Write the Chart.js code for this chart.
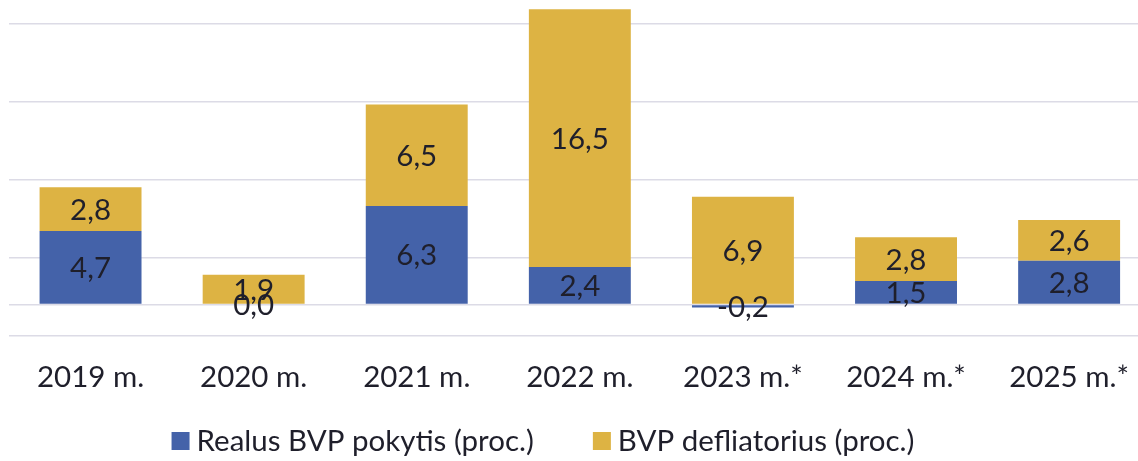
<!DOCTYPE html>
<html><head><meta charset="utf-8">
<script src="https://cdn.jsdelivr.net/npm/chart.js@4.4.1/dist/chart.umd.min.js"></script>
<style>
html,body{margin:0;padding:0;overflow:hidden;background:#fff;width:1138px;height:461px}
#wrap{position:relative;width:1153px;height:461px}
</style></head>
<body><div id="wrap"><canvas id="c"></canvas></div>
<script>
const categories = ['2019 m.','2020 m.','2021 m.','2022 m.','2023 m.*','2024 m.*','2025 m.*'];
const realGrowth = [4.7, 0.0, 6.3, 2.4, -0.2, 1.5, 2.8];
const deflator   = [2.8, 1.9, 6.5, 16.5, 6.9, 2.8, 2.6];
const seriesNames = ['Realus BVP pokytis (proc.)', 'BVP defliatorius (proc.)'];
const gridTicks = [-2, 0, 3, 8, 13, 18];

const BLUE = '#4462a9', GOLD = '#ddb343', TEXT = '#1f1f2b', GRID = '#dcdbe6';
const FONT = 'Lato, "Noto Sans", sans-serif';
const FS = 29.5;

const valueLabels = {
  id: 'valueLabels',
  afterDatasetsDraw(chart) {
    const ctx = chart.ctx;
    ctx.save();
    ctx.font = FS + 'px ' + FONT;
    ctx.fillStyle = TEXT;
    ctx.textAlign = 'center';
    ctx.textBaseline = 'middle';
    chart.data.datasets.forEach((ds, di) => {
      const meta = chart.getDatasetMeta(di);
      meta.data.forEach((el, i) => {
        const v = ds.data[i];
        const y = (el.y + el.base) / 2;
        ctx.fillText(v.toFixed(1).replace('.', ','), el.x, y + 1);
      });
    });
    ctx.restore();
  }
};

const bottomLegend = {
  id: 'bottomLegend',
  afterDraw(chart) {
    const ctx = chart.ctx;
    ctx.save();
    ctx.font = FS + 'px ' + FONT;
    ctx.textBaseline = 'middle';
    ctx.textAlign = 'left';
    const box = 18, gap = 7, spacing = 59, cy = 441;
    const items = chart.data.datasets.map(d => ({text: d.label, color: d.backgroundColor, w: ctx.measureText(d.label).width}));
    let total = 0;
    items.forEach((it, i) => { total += box + gap + it.w + (i < items.length - 1 ? spacing : 0); });
    let x = 543 - total / 2;
    items.forEach(it => {
      ctx.fillStyle = it.color;
      ctx.fillRect(x, cy - box / 2, box, box);
      ctx.fillStyle = TEXT;
      ctx.fillText(it.text, x + box + gap, cy);
      x += box + gap + it.w + spacing;
    });
    ctx.restore();
  }
};

new Chart(document.getElementById('c'), {
  type: 'bar',
  data: {
    labels: categories,
    datasets: [
      {label: seriesNames[0], data: realGrowth, backgroundColor: BLUE, barPercentage: 0.625, categoryPercentage: 1},
      {label: seriesNames[1], data: deflator, backgroundColor: GOLD, barPercentage: 0.625, categoryPercentage: 1}
    ]
  },
  options: {
    responsive: true,
    maintainAspectRatio: false,
    animation: false,
    layout: {padding: {left: 9, right: 0, top: 0, bottom: 42}},
    plugins: {legend: {display: false}, tooltip: {enabled: false}},
    scales: {
      x: {
        stacked: true,
        grid: {display: false, drawTicks: false},
        border: {display: false},
        ticks: {color: TEXT, font: {family: FONT, size: FS}, padding: 24, maxRotation: 0, autoSkip: false}
      },
      y: {
        stacked: true,
        min: -2, max: 19.5,
        afterBuildTicks: s => { s.ticks = gridTicks.map(v => ({value: v})); },
        grid: {color: GRID, lineWidth: 1.5, drawTicks: false},
        border: {display: false},
        ticks: {display: false}
      }
    }
  },
  plugins: [valueLabels, bottomLegend]
});
</script>
</body></html>
